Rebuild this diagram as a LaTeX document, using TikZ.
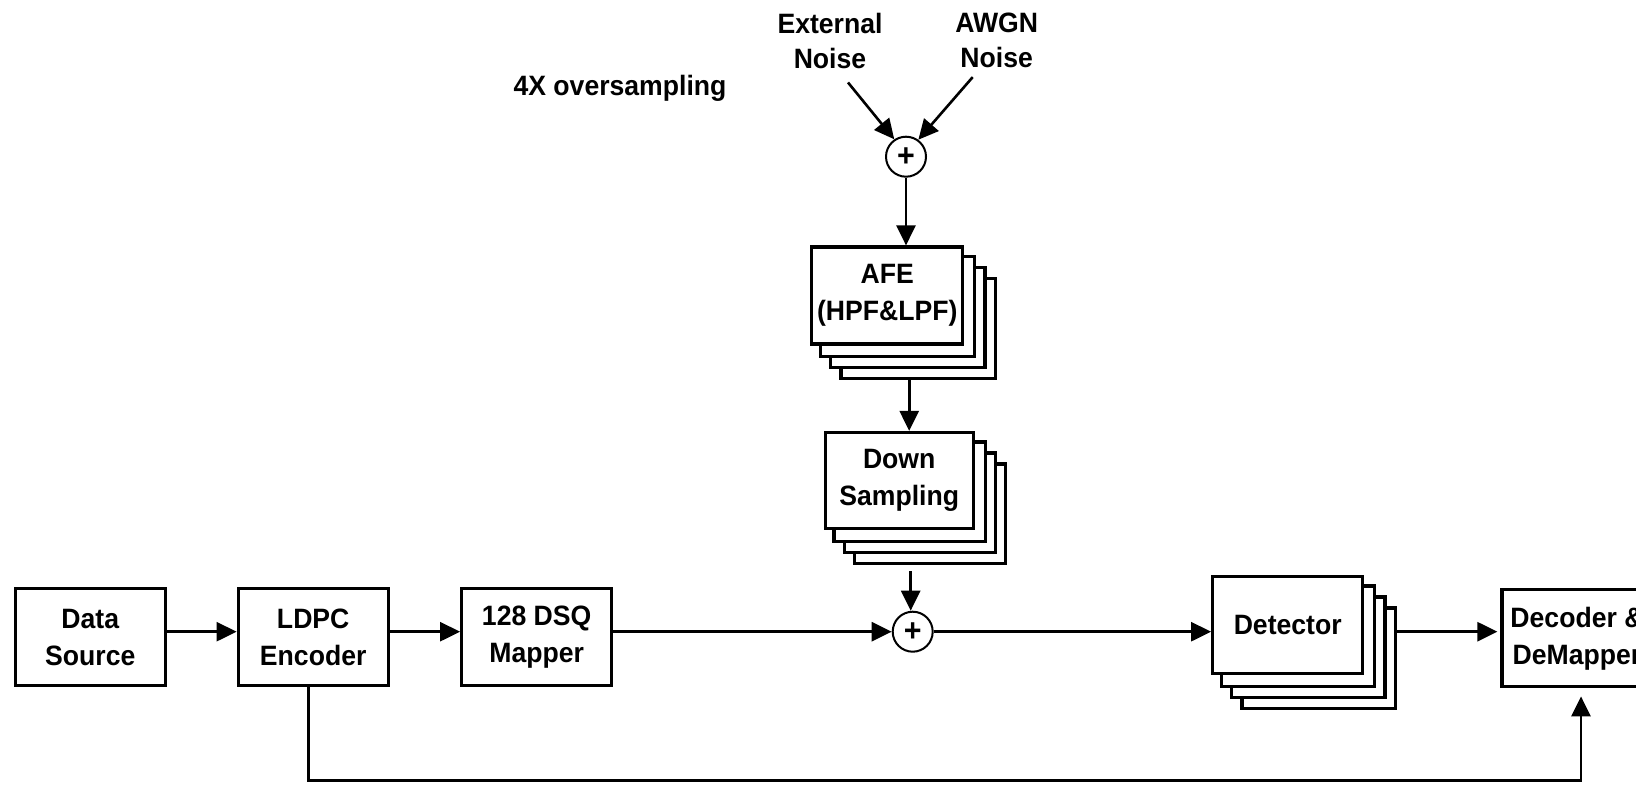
\documentclass[tikz,border=0pt]{standalone}
\usepackage{fontspec}
\setmainfont{Liberation Sans}[FakeStretch=0.95]
\usetikzlibrary{arrows.meta,calc,backgrounds}

\begin{document}
\begin{tikzpicture}[x=1pt,y=-1pt,
  every node/.style={font=\fontsize{28}{37}\selectfont\bfseries},
  box/.style={draw,line width=3.2pt,fill=white,minimum width=150pt,minimum height=97pt,inner sep=0pt,align=center},
  sumnode/.style={draw,circle,line width=2pt,fill=white,minimum size=40pt,inner sep=0pt,font=\fontsize{32}{32}\selectfont\bfseries},
  lbl/.style={inner sep=0pt,align=center,font=\fontsize{28}{35}\selectfont\bfseries},
  arr/.style={line width=2.6pt,-{Triangle[length=20pt,width=19pt]}},
  layer/.style={draw,line width=3.2pt,fill=white}
]
\useasboundingbox (0,0) rectangle (1636,786);
\clip (0,0) rectangle (1636,786);

% main signal chain
\node[box] (src) at (90.3,637.2) {Data\\Source};
\node[box] (enc) at (313.2,637.2) {LDPC\\Encoder};
\node[box] (map) at (536.7,637.2) {128 DSQ\\Mapper};
\node[sumnode] (sumB) at (912.7,631.7) {+};
\node[box] (det) at (1287.7,625) {Detector};
\node[box] (dec) at (1577,638.3) {Decoder \&\\DeMapper};

% receiver front end branch
\node[sumnode] (sumT) at (906,156.7) {+};
\node[box,minimum width=151pt] (afe) at (887.2,295.5) {AFE\\(HPF\&LPF)};
\node[box,minimum width=148pt,minimum height=96pt] (down) at (899.2,480.5) {Down\\Sampling};

\node[lbl] (ext) at (830,40.5) {External\\Noise};
\node[lbl] (awgn) at (996.7,40.5) {AWGN\\Noise};
\node[anchor=base,inner sep=0pt] (over) at (620,96) {4X oversampling};

% stacked copies behind the parallel blocks
\begin{scope}[on background layer]
  \foreach \n in {afe,down,det} {
    \foreach \k in {3,2,1} {
      \draw[layer] ($(\n.south west)+(\k*10.3,\k*11)$) rectangle ($(\n.north east)+(\k*10.3,\k*11)$);
    }
  }
\end{scope}

% connectors along the bottom row
\draw[arr] (src.east |- sumB) -- (enc.west |- sumB);
\draw[arr] (enc.east |- sumB) -- (map.west |- sumB);
\draw[arr] (map.east |- sumB) -- (sumB.west);
\draw[arr] (sumB.east) -- (det.west |- sumB);
\draw[arr] ($(det.east |- sumB)+(31,0)$) -- ($(dec.west |- sumB)+(-3,0)$);

% noise injection and front end
\draw[arr] ([xshift=18pt,yshift=-14pt]ext.south) -- (sumT.124);
\draw[arr] ([xshift=-24pt,yshift=-9pt]awgn.south) -- (sumT.54);
\draw[arr] (sumT.south) -- (sumT.south |- afe.north);
\coordinate (afeOut) at ($(afe.south)+(22,33)$);
\draw[arr] (afeOut) -- (afeOut |- down.north);
\coordinate (downOut) at ($(sumB.north |- down.south)+(-2,41)$);
\draw[arr] (downOut) -- (downOut |- sumB.north);

% encoder side information to the decoder
\coordinate (fb) at ($(enc.south)+(-5,93)$);
\draw[arr,shorten >=8pt] ([xshift=-5pt]enc.south) -- (fb) -| ([xshift=4pt]dec.south);
\end{tikzpicture}
\end{document}
